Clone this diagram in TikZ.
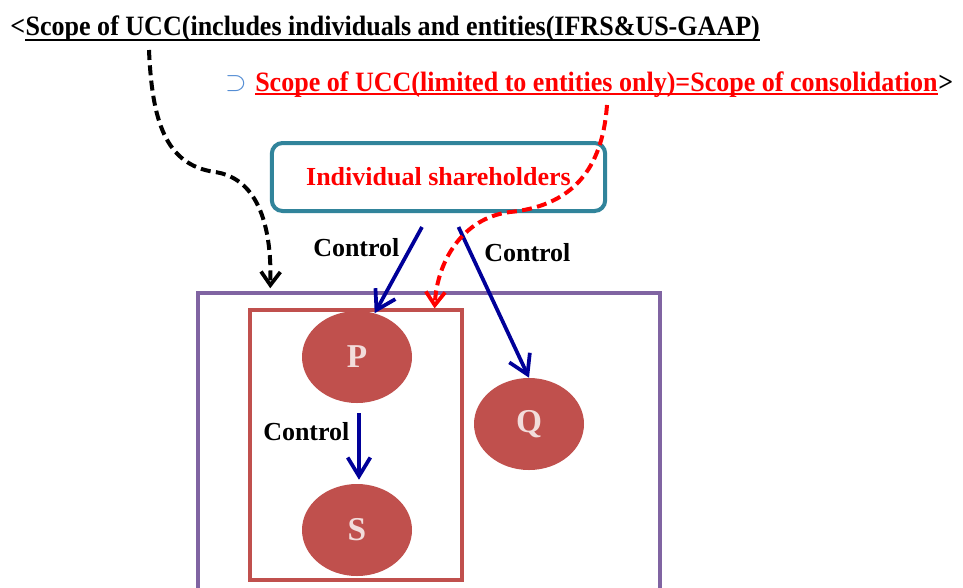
\documentclass[tikz,border=0pt]{standalone}
\usepackage{fontspec}
\setmainfont{Liberation Serif}
\newfontfamily\headfont[FakeStretch=0.93]{Liberation Serif Bold}
\usetikzlibrary{arrows.meta,shapes.geometric,calc,fit}

\definecolor{ctrlblue}{RGB}{0,0,153}
\definecolor{boxteal}{RGB}{49,132,155}
\definecolor{entred}{RGB}{192,80,77}
\definecolor{grpviolet}{RGB}{128,100,162}
\definecolor{lettpink}{RGB}{242,220,219}
\definecolor{supblue}{RGB}{84,141,212}

\tikzset{
  headtext/.style={inner sep=0pt, font=\fontsize{21}{23}\headfont},
  ctrllabel/.style={inner sep=0pt, anchor=base west, font=\fontsize{19.5}{21}\selectfont\bfseries},
  entity/.style={ellipse, fill=entred, text=lettpink, minimum width=82.5pt,
    minimum height=69pt, inner sep=0pt, font=\fontsize{25}{27}\selectfont\bfseries},
  holders/.style={draw=boxteal, line width=3pt, rounded corners=8pt, text=red,
    minimum width=250pt, minimum height=51pt, inner sep=0pt,
    font=\fontsize{19.5}{21}\selectfont\bfseries},
  frame/.style={draw, inner sep=0pt},
  ctrl/.style={draw=ctrlblue, line width=2.8pt,
    -{Straight Barb[length=14pt, width=17pt, line width=2.8pt]}},
  scopearrow/.style={line width=3pt, dash pattern=on 7.5pt off 4pt,
    -{Straight Barb[length=10pt, width=14.5pt, line width=2.8pt]}},
  uline/.style={line width=1.5pt},
}

\begin{document}
\begin{tikzpicture}[x=0.75pt, y=-0.75pt]
\clip (0,0) rectangle (963,587);
\fill[white] (0,0) rectangle (963,587);

% heading: the wider scope
\node[headtext, anchor=base west] (lt) at (10,35.5) {<};
\node[headtext, anchor=base west] (t1) at (lt.base east)
  {Scope of UCC(includes individuals and entities(IFRS\&US-GAAP)};
\draw[uline] ([yshift=-3pt]t1.base west) -- ([yshift=-3pt]t1.base east);

% second line: the narrower scope
\node[inner sep=0pt, text=supblue, font=\fontsize{20}{22}\selectfont] (sup) at (236,83.5) {$\supset$};
\node[headtext, anchor=base west, text=red] (t2) at (255,91.5)
  {Scope of UCC(limited to entities only)=Scope of consolidation};
\draw[uline, red] ([yshift=-2pt]t2.base west) -- ([yshift=-2pt]t2.base east);
\node[headtext, anchor=base west] (gt) at (t2.base east) {>};

% shareholders box
\node[holders] (box) at (438.5,177) {Individual shareholders};

% group frames
\coordinate (o1) at (198,293);
\coordinate (o2) at (660,640);
\node[frame, draw=grpviolet, line width=2.6pt, fit=(o1)(o2)] (outer) {};
\coordinate (i1) at (250,310);
\coordinate (i2) at (462,580);
\node[frame, draw=entred, line width=2.4pt, fit=(i1)(i2)] (inner) {};

% entities
\node[entity] (P) at (357,357) {P};
\node[entity] (Q) at (529,424) {Q};
\node[entity] (S) at (357,530) {S};

% control relations
\draw[ctrl] ($(box.south)+(-16.5,14)$) -- (P.68);
\draw[ctrl] ($(box.south)+(20,14)$) -- (Q.north);
\draw[ctrl] ($(P.south)+(2,10)$) -- ($(S.north)+(2,-4)$);
\node[ctrllabel] (c1) at (313,256.5) {Control};
\node[ctrllabel] (c2) at (484,261.5) {Control};
\node[ctrllabel] (c3) at (263,440) {Control};

% scope pointers
\coordinate (bstart) at (149,50);
\coordinate (rstart) at (607,105);
\draw[scopearrow, black] (bstart) .. controls (152,120) and (165,165) .. (215,172)
  .. controls (255,178) and (272,220) .. ($(outer.north west)+(74,-3)$);
\draw[scopearrow, red] (rstart) .. controls (603,160) and (580,205) .. (510,212)
  .. controls (462,218) and (437,262) .. ($(inner.north east)+(-29,0)$);
\end{tikzpicture}
\end{document}
